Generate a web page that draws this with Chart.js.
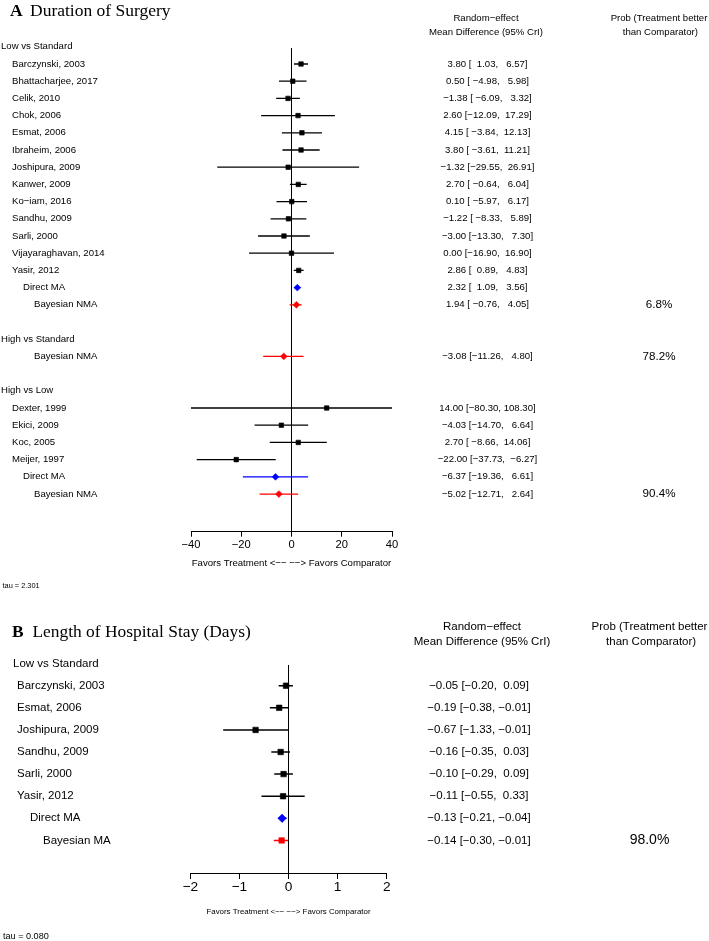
<!DOCTYPE html>
<html><head><meta charset="utf-8">
<script src="https://cdn.jsdelivr.net/npm/chart.js@4/dist/chart.umd.min.js"></script>
<style>
html,body{margin:0;padding:0;background:#fff;width:709px;height:941px;overflow:hidden}
canvas{position:absolute;left:0}
#a{top:0}#b{top:600px}
</style></head>
<body>
<canvas id="a" width="709" height="600"></canvas>
<canvas id="b" width="709" height="341"></canvas>
<script>
// ---------- Panel A: Duration of Surgery ----------
const titleA = ["A", "Duration of Surgery"];
const rowLabelsA = ["Low vs Standard","Barczynski, 2003","Bhattacharjee, 2017","Celik, 2010","Chok, 2006","Esmat, 2006","Ibraheim, 2006","Joshipura, 2009","Kanwer, 2009","Ko\u2212iam, 2016","Sandhu, 2009","Sarli, 2000","Vijayaraghavan, 2014","Yasir, 2012","Direct MA","Bayesian NMA","","High vs Standard","Bayesian NMA","","High vs Low","Dexter, 1999","Ekici, 2009","Koc, 2005","Meijer, 1997","Direct MA","Bayesian NMA"];
const rowKindsA = ["header","study","study","study","study","study","study","study","study","study","study","study","study","study","direct","bayes","blank","header","bayes","blank","header","study","study","study","study","direct","bayes"];
const meanA  = [null,3.80,0.50,-1.38,2.60,4.15,3.80,-1.32,2.70,0.10,-1.22,-3.00,0.00,2.86,2.32,1.94,null,null,-3.08,null,null,14.00,-4.03,2.70,-22.00,-6.37,-5.02];
const lowerA = [null,1.03,-4.98,-6.09,-12.09,-3.84,-3.61,-29.55,-0.64,-5.97,-8.33,-13.30,-16.90,0.89,1.09,-0.76,null,null,-11.26,null,null,-80.30,-14.70,-8.66,-37.73,-19.36,-12.71];
const upperA = [null,6.57,5.98,3.32,17.29,12.13,11.21,26.91,6.04,6.17,5.89,7.30,16.90,4.83,3.56,4.05,null,null,4.80,null,null,108.30,6.64,14.06,-6.27,6.61,2.64];
const probA  = [null,null,null,null,null,null,null,null,null,null,null,null,null,null,null,6.8,null,null,78.2,null,null,null,null,null,null,null,90.4];
const xTicksA = [-40,-20,0,20,40];
const tauA = "2.301";

// ---------- Panel B: Length of Hospital Stay ----------
const titleB = ["B", "Length of Hospital Stay (Days)"];
const rowLabelsB = ["Low vs Standard","Barczynski, 2003","Esmat, 2006","Joshipura, 2009","Sandhu, 2009","Sarli, 2000","Yasir, 2012","Direct MA","Bayesian MA"];
const rowKindsB = ["header","study","study","study","study","study","study","direct","bayes"];
const meanB  = [null,-0.05,-0.19,-0.67,-0.16,-0.10,-0.11,-0.13,-0.14];
const lowerB = [null,-0.20,-0.38,-1.33,-0.35,-0.29,-0.55,-0.21,-0.30];
const upperB = [null,0.09,-0.01,-0.01,0.03,0.09,0.33,-0.04,-0.01];
const probB  = [null,null,null,null,null,null,null,null,98.0];
const xTicksB = [-2,-1,0,1,2];
const tauB = "0.080";

const colHead1 = ["Random\u2212effect", "Mean Difference (95% CrI)"];
const colHead2 = ["Prob (Treatment better", " than Comparator)"];
const favorsText = "Favors Treatment <\u2212\u2212 \u2212\u2212> Favors Comparator";

const SANS = '"Liberation Sans", Arial, sans-serif';
const SERIF = '"Liberation Serif", "Times New Roman", serif';
const minus = s => String(s).replace(/-/g, '\u2212');
const f2 = v => minus(v.toFixed(2));

function ciStrings(mean, lo, hi) {
  const loW = Math.max(...lo.filter(v => v !== null).map(v => f2(v).length));
  const hiW = Math.max(...hi.filter(v => v !== null).map(v => f2(v).length));
  return mean.map((m, i) => m === null ? null :
    f2(m) + " [" + f2(lo[i]).padStart(loW, " ") + ", " + f2(hi[i]).padStart(hiW, " ") + "]");
}

function buildChart(canvasId, P) {
  const colors = { study: '#000000', direct: '#0000ff', bayes: '#ff0000' };
  const datasets = [];
  ['study', 'direct', 'bayes'].forEach(k => {
    const pts = [];
    P.kinds.forEach((kind, i) => { if (kind === k && P.mean[i] !== null) pts.push({ x: P.mean[i], y: i }); });
    if (!pts.length) return;
    datasets.push({
      type: 'scatter', data: pts,
      pointStyle: P.styles[k], pointRadius: P.radius[k],
      backgroundColor: colors[k], borderColor: colors[k], borderWidth: P.pointBorder
    });
  });
  P.kinds.forEach((kind, i) => {
    if (P.mean[i] === null) return;
    datasets.push({
      type: 'line', data: [{ x: P.lo[i], y: i }, { x: P.hi[i], y: i }],
      borderColor: colors[kind], borderWidth: P.lineW, pointRadius: 0, fill: false
    });
  });
  const ci = ciStrings(P.mean, P.lo, P.hi);

  const textPlugin = {
    id: 'forestText',
    afterDraw(chart) {
      const ctx = chart.ctx, ys = chart.scales.y;
      ctx.save();
      ctx.fillStyle = '#000';
      ctx.textBaseline = 'alphabetic'; ctx.textAlign = 'left';
      ctx.font = 'bold ' + P.titleSize + 'px ' + SERIF;
      ctx.fillText(P.title[0], P.titleX[0], P.titleY);
      ctx.font = P.titleSize + 'px ' + SERIF;
      ctx.fillText(P.title[1], P.titleX[1], P.titleY);
      ctx.textBaseline = 'middle'; ctx.textAlign = 'center';
      ctx.font = P.fontSize + 'px ' + SANS;
      ctx.fillText(colHead1[0], P.headX1, P.headY[0]);
      ctx.fillText(colHead1[1], P.headX1, P.headY[1]);
      ctx.fillText(colHead2[0], P.headX2, P.headY[0]);
      ctx.fillText(colHead2[1], P.headX2, P.headY[1]);
      P.labels.forEach((lab, i) => {
        const y = ys.getPixelForValue(i);
        if (lab) {
          ctx.textAlign = 'left';
          ctx.font = P.fontSize + 'px ' + SANS;
          ctx.fillText(lab, P.indent[P.kinds[i]], y);
        }
        if (ci[i]) {
          ctx.textAlign = 'center';
          ctx.font = P.fontSize + 'px ' + SANS;
          ctx.fillText(ci[i], P.colX, y);
        }
        if (P.prob[i] !== null) {
          ctx.textAlign = 'center';
          ctx.font = P.probSize + 'px ' + SANS;
          ctx.fillText(P.prob[i].toFixed(1) + '%', P.headX2, y);
        }
      });
      ctx.textAlign = 'left';
      ctx.font = P.tauSize + 'px ' + SANS;
      ctx.fillText('tau = ' + P.tau, P.tauX, P.tauY);
      ctx.restore();
    }
  };

  return new Chart(document.getElementById(canvasId), {
    type: 'scatter',
    data: { datasets },
    plugins: [textPlugin],
    options: {
      responsive: false, animation: false, devicePixelRatio: 1, events: [],
      layout: { padding: P.pad },
      plugins: { legend: { display: false }, tooltip: { enabled: false } },
      scales: {
        x: {
          type: 'linear', min: P.ticks[0], max: P.ticks[P.ticks.length - 1],
          afterBuildTicks: s => { s.ticks = P.ticks.map(v => ({ value: v })); },
          afterFit: s => { s.height = P.axisH; },
          grid: {
            drawOnChartArea: true,
            color: c => (c.tick && c.tick.value === 0) ? '#000' : 'rgba(0,0,0,0)',
            lineWidth: 1, tickColor: '#000', tickLength: P.tickLen, tickWidth: 1
          },
          border: { display: true, color: '#000', width: 1 },
          ticks: {
            color: '#000', font: { family: SANS, size: P.tickSize }, padding: P.tickPad,
            autoSkip: false, maxRotation: 0, callback: v => minus(v)
          },
          title: { display: true, text: favorsText, color: '#000', font: { family: SANS, size: P.favSize }, padding: 0 }
        },
        y: { type: 'linear', reverse: true, min: P.yMin, max: P.yMax, display: false }
      }
    }
  });
}

buildChart('a', {
  title: titleA, titleSize: 17.5, titleX: [10, 30], titleY: 16,
  labels: rowLabelsA, kinds: rowKindsA, mean: meanA, lo: lowerA, hi: upperA, prob: probA,
  ticks: xTicksA, tau: tauA,
  indent: { header: 1, study: 12, direct: 23, bayes: 34, blank: 0 },
  styles: { study: 'rect', direct: 'rectRot', bayes: 'rectRot' },
  radius: { study: 3.2, direct: 3.4, bayes: 3.4 }, pointBorder: 0.6, lineW: 1.3,
  fontSize: 9.6, probSize: 11.6, tickSize: 11.2, favSize: 9.6, tauSize: 7.4,
  headX1: 486, headX2: 659, headY: [18.3, 32.3], colX: 487.5,
  tauX: 2.5, tauY: 585.5,
  pad: { left: 191, right: 317, top: 48, bottom: 30.8 }, axisH: 37.5, tickLen: 5, tickPad: 1,
  yMin: 0.07, yMax: 28.19
});

buildChart('b', {
  title: titleB, titleSize: 17.4, titleX: [12, 32.5], titleY: 36.7,
  labels: rowLabelsB, kinds: rowKindsB, mean: meanB, lo: lowerB, hi: upperB, prob: probB,
  ticks: xTicksB, tau: tauB,
  indent: { header: 13, study: 17, direct: 30, bayes: 43, blank: 0 },
  styles: { study: 'rect', direct: 'rectRot', bayes: 'rect' },
  radius: { study: 3.9, direct: 4.2, bayes: 3.9 }, pointBorder: 0.6, lineW: 1.5,
  fontSize: 11.5, probSize: 14, tickSize: 13.7, favSize: 7.9, tauSize: 9.1,
  headX1: 482, headX2: 649.5, headY: [26.7, 42.3], colX: 479,
  tauX: 3, tauY: 336,
  pad: { left: 190.3, right: 322.3, top: 65, bottom: 24.3 }, axisH: 43.7, tickLen: 6, tickPad: 0,
  yMin: 0.063, yMax: 9.475
});
</script>
</body></html>
